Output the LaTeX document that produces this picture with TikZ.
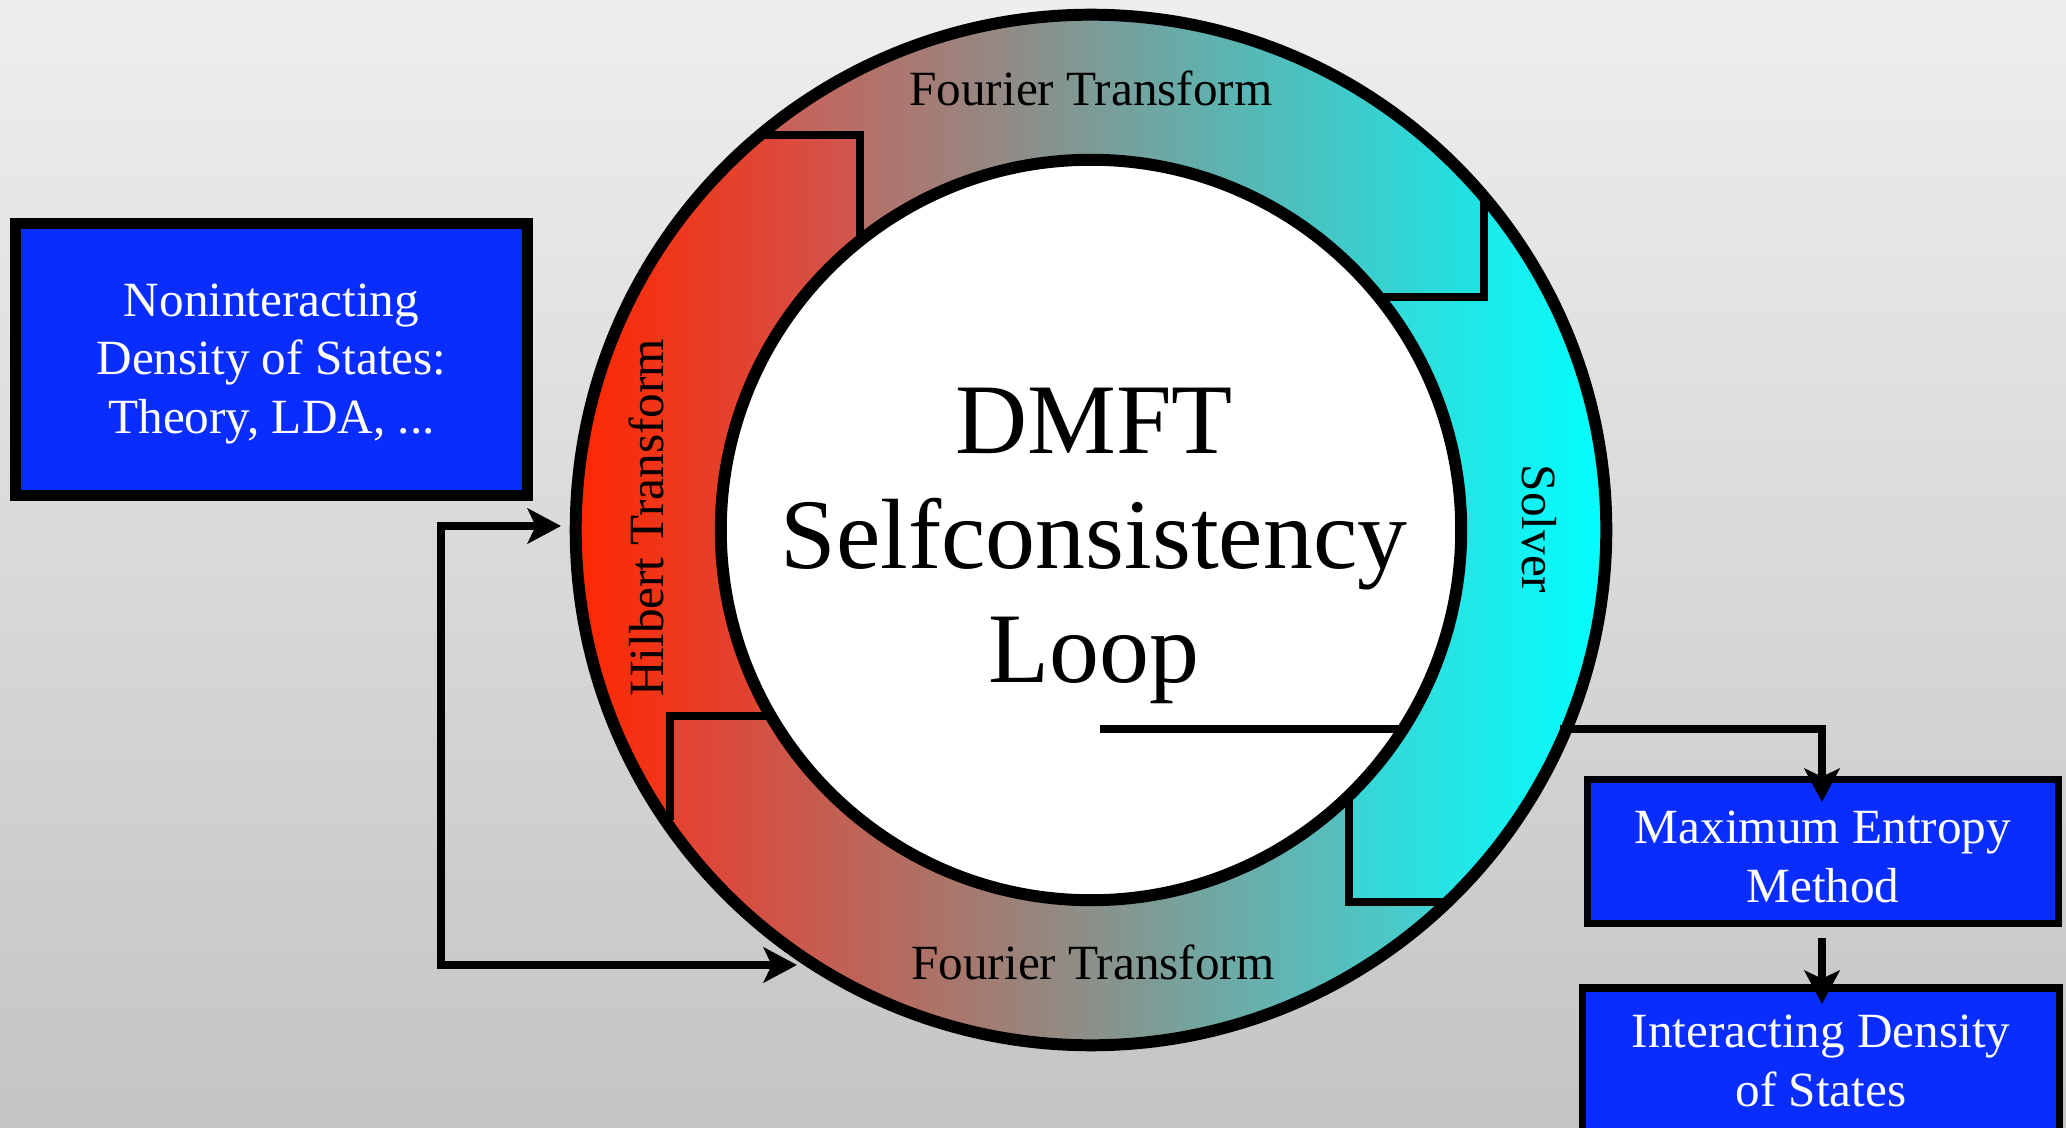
\documentclass[tikz,border=0pt]{standalone}
\usepackage{fontspec}
\setmainfont{Liberation Serif}
\usetikzlibrary{arrows.meta}

\definecolor{bgtop}{RGB}{238,238,238}
\definecolor{bgbot}{RGB}{196,196,196}
\definecolor{boxblue}{RGB}{10,45,255}
% ring colours
\definecolor{hilL}{RGB}{255,38,0}
\definecolor{hilR}{RGB}{207,86,80}
\definecolor{topL}{RGB}{206,92,84}
\definecolor{topM}{RGB}{142,148,148}
\definecolor{topR}{RGB}{30,228,228}
\definecolor{solL}{RGB}{60,212,212}
\definecolor{solR}{RGB}{0,255,255}
\definecolor{botL}{RGB}{230,64,48}
\definecolor{botM}{RGB}{143,143,143}
\definecolor{botR}{RGB}{62,212,212}

\tikzset{
  ringline/.style={line width=3.4pt},
  notchline/.style={line width=2.3pt, line join=miter},
  conn/.style={line width=2.3pt, line join=miter,
    -{Stealth[length=9.5pt,width=10pt,inset=2.3pt]}},
  bothconn/.style={line width=2.3pt, line join=miter,
    {Stealth[length=9.5pt,width=10pt,inset=2.3pt]}-{Stealth[length=9.5pt,width=10pt,inset=2.3pt]}},
  bluebox/.style={draw=black, fill=boxblue, rectangle, inner sep=0pt},
  boxtext/.style={text=white, align=center, font=\fontsize{14}{16.6}\selectfont},
  ringtext/.style={text=black, font=\fontsize{14}{16.6}\selectfont, anchor=base, inner sep=0pt},
  titletext/.style={text=black, align=center, font=\fontsize{28.4}{32.6}\selectfont},
}

\begin{document}
\begin{tikzpicture}[x=0.01cm, y=-0.01cm]
\useasboundingbox (0,0) rectangle (2066,1128);
\clip (0,0) rectangle (2066,1128);

% background
\shade[top color=bgtop, bottom color=bgbot] (0,0) rectangle (2066,1128);

% ring centre
\coordinate (c) at (1091,530);

% connector from the ring to the maximum entropy box (passes under the ring)
\coordinate (solstart) at (1100,729);
\coordinate (solinner) at (1403,729);
\coordinate (solouter) at (1560,729);
\coordinate (memtip) at (1822,802);

% ---- ring segments ----
% Hilbert transform (left)
\begin{scope}
  \clip (c) circle[radius=5.15cm];
  \clip (0,135) -- (860,135) -- (860,238) -- (772,716) -- (670,716)
        -- (670,1128) -- (0,1128) -- cycle;
  \shade[left color=hilL, right color=hilR] (570,0) rectangle (860,1128);
\end{scope}
% Fourier transform (top)
\begin{scope}
  \clip (c) circle[radius=5.15cm];
  \clip (0,0) -- (1484,0) -- (1484,297) -- (1381,297) -- (860,238)
        -- (860,135) -- (0,135) -- cycle;
  \shade[left color=topL, middle color=topM, right color=topR] (757,0) rectangle (1484,1128);
\end{scope}
% solver (right)
\begin{scope}
  \clip (c) circle[radius=5.15cm];
  \clip (1484,0) -- (2066,0) -- (2066,902) -- (1349,902) -- (1349,800)
        -- (1381,297) -- (1484,297) -- cycle;
  \shade[left color=solL, right color=solR] (1349,0) rectangle (1613,1128);
\end{scope}
% Fourier transform (bottom)
\begin{scope}
  \clip (c) circle[radius=5.15cm];
  \clip (670,1128) -- (670,716) -- (772,716) -- (1349,800) -- (1349,902)
        -- (2066,902) -- (2066,1128) -- cycle;
  \shade[left color=botL, middle color=botM, right color=botR] (670,0) rectangle (1448,1128);
\end{scope}

% inner disc
\fill[white] (c) circle[radius=3.70cm];

% notches between the segments
\draw[notchline] (757,135) -- (860,135) -- (860,238);
\draw[notchline] (1484,195) -- (1484,297) -- (1381,297);
\draw[notchline] (1349,800) -- (1349,902) -- (1448,902);
\draw[notchline] (772,716) -- (670,716) -- (670,820);

% line leaving the loop from the centre
\draw[notchline] (solstart) -- (solinner);

% ring outlines
\draw[ringline] (c) circle[radius=5.15cm];
\draw[ringline] (c) circle[radius=3.70cm];

% ---- texts on the ring ----
\node[ringtext] (fttop) at (1091,106) {Fourier Transform};
\node[ringtext] (ftbot) at (1093,980) {Fourier Transform};
\node[ringtext, rotate=90] (hilbert) at (663,518) {Hilbert Transform};
\node[ringtext, rotate=-90] (solver) at (1522,529) {Solver};
\node[titletext] (title) at (1094,546) {DMFT\\Selfconsistency\\Loop};

% ---- boxes ----
\node[bluebox, line width=3.1pt, minimum width=5.12cm, minimum height=2.72cm]
  (ldos) at (271.5,359.5) {};
\node[boxtext] (ldostxt) at (271.5,364) {Noninteracting\\Density of States:\\Theory, LDA, ...};

\node[bluebox, line width=2pt, minimum width=4.71cm, minimum height=1.44cm]
  (mem) at (1823,851.5) {};
\node[boxtext] (memtxt) at (1823,857) {Maximum Entropy\\Method};

\node[bluebox, line width=2pt, minimum width=4.77cm, minimum height=2.2cm, anchor=north]
  (ids) at (1821,984.5) {};
\node[boxtext] (idstxt) at (1821,1061) {Interacting Density\\of States};

% ---- connectors ----
\coordinate (hilin) at (561,526);
\coordinate (ftin) at (797,965);
\coordinate (loopa) at (441,526);
\coordinate (loopb) at (441,965);
\draw[bothconn] (hilin) -- (loopa) -- (loopb) -- (ftin);

\draw[conn] (solouter) -| (memtip);

\coordinate (memout) at (1822,938);
\coordinate (idstip) at (1822,1004);
\draw[conn] (memout) -- (idstip);
\end{tikzpicture}
\end{document}
